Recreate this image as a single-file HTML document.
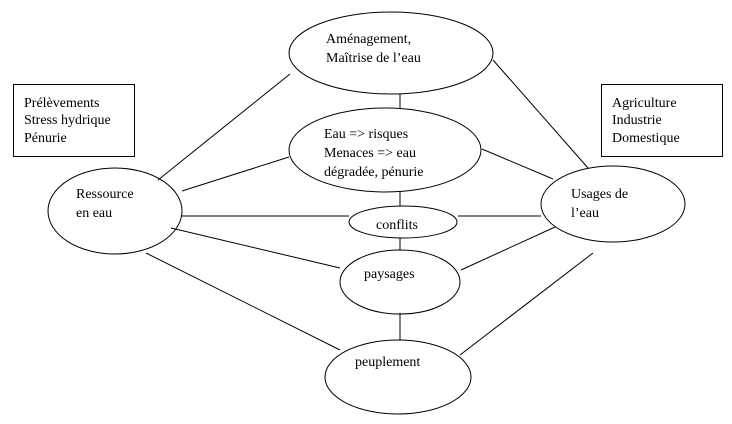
<!DOCTYPE html>
<html><head><meta charset="utf-8"><style>
body{margin:0;background:#fff;}
svg{display:block;}
text{font-family:"Liberation Serif","Times New Roman",Times,"DejaVu Serif",serif;font-size:14px;fill:#000;}
</style></head><body>
<svg width="732" height="424" viewBox="0 0 732 424" xmlns="http://www.w3.org/2000/svg" font-family="Liberation Serif, Times New Roman, serif">
<g stroke="#000" stroke-width="1" fill="none">
<rect x="13.5" y="84.5" width="121" height="72"/>
<rect x="601.5" y="84.5" width="121" height="72"/>
<ellipse cx="391" cy="53" rx="102" ry="41"/>
<ellipse cx="385" cy="150" rx="96" ry="42"/>
<ellipse cx="403" cy="222" rx="54" ry="16"/>
<ellipse cx="400" cy="282" rx="60" ry="32"/>
<ellipse cx="398" cy="377" rx="73" ry="37"/>
<ellipse cx="115" cy="211" rx="67" ry="43"/>
<ellipse cx="613" cy="204" rx="72" ry="38"/>
<line x1="158" y1="180" x2="290" y2="74"/>
<line x1="182" y1="191" x2="289" y2="157"/>
<line x1="182" y1="216" x2="349" y2="216"/>
<line x1="458" y1="216" x2="541" y2="216"/>
<line x1="171" y1="228" x2="340" y2="268"/>
<line x1="146" y1="253" x2="340" y2="350"/>
<line x1="493" y1="60" x2="588" y2="168"/>
<line x1="482" y1="149" x2="553" y2="179"/>
<line x1="461" y1="270" x2="555" y2="227"/>
<line x1="460" y1="355" x2="593" y2="253"/>
<line x1="400" y1="94" x2="400" y2="108"/>
<line x1="400" y1="191" x2="400" y2="206"/>
<line x1="400" y1="238" x2="400" y2="250"/>
<line x1="400" y1="313" x2="400" y2="340"/>
</g>
<text x="24" y="107">Prélèvements</text>
<text x="24" y="124">Stress hydrique</text>
<text x="24" y="142">Pénurie</text>
<text x="612" y="107">Agriculture</text>
<text x="612" y="124">Industrie</text>
<text x="612" y="142">Domestique</text>
<text x="326" y="43">Aménagement,</text>
<text x="326" y="62">Maîtrise de l’eau</text>
<text x="324" y="138">Eau  => risques</text>
<text x="324" y="157">Menaces => eau</text>
<text x="324" y="176">dégradée, pénurie</text>
<text x="76" y="198">Ressource</text>
<text x="76" y="217">en eau</text>
<text x="571" y="198">Usages de</text>
<text x="571" y="217">l’eau</text>
<text x="376" y="229">conflits</text>
<text x="364" y="278">paysages</text>
<text x="355" y="366">peuplement</text>
</svg>
</body></html>
